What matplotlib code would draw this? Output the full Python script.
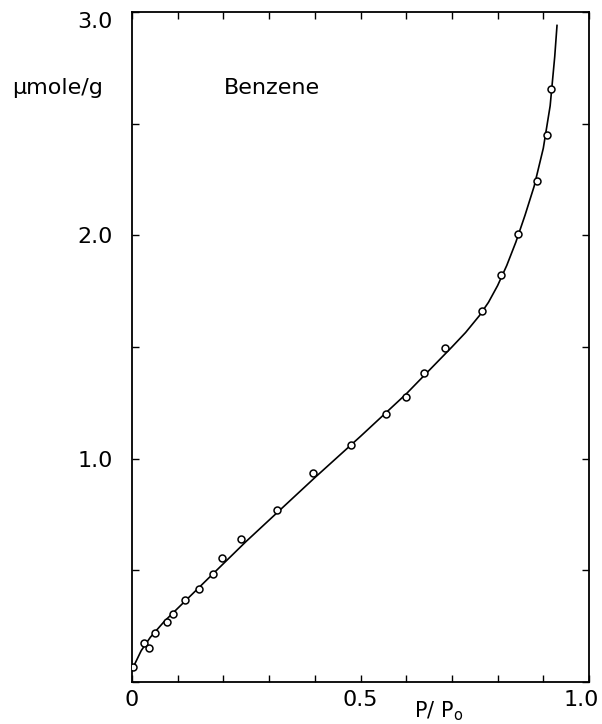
import numpy as np
import matplotlib.pyplot as plt
import matplotlib.transforms as mtransforms
from matplotlib.ticker import MultipleLocator

# measured points (P/Po, umole/g)
p_rel = [0.002, 0.026, 0.037, 0.050, 0.077, 0.090, 0.116, 0.147, 0.177, 0.197,
         0.239, 0.317, 0.396, 0.479, 0.556, 0.600, 0.639, 0.685, 0.766, 0.807,
         0.845, 0.886, 0.908, 0.917]
uptake = [0.067, 0.175, 0.152, 0.219, 0.269, 0.305, 0.367, 0.417, 0.484, 0.555,
          0.640, 0.770, 0.936, 1.061, 1.200, 1.276, 1.384, 1.496, 1.661, 1.823,
          2.006, 2.244, 2.450, 2.656]

# drawn isotherm curve
curve_x = [0.000, 0.020, 0.040, 0.070, 0.100, 0.150, 0.200, 0.250, 0.300, 0.400,
           0.500, 0.550, 0.600, 0.650, 0.700, 0.730, 0.760, 0.780, 0.800, 0.820,
           0.840, 0.860, 0.880, 0.900, 0.915, 0.925, 0.930]
curve_y = [0.055, 0.14, 0.20, 0.27, 0.33, 0.43, 0.53, 0.63, 0.725, 0.915,
           1.10, 1.195, 1.29, 1.395, 1.50, 1.565, 1.64, 1.70, 1.775, 1.865,
           1.97, 2.09, 2.22, 2.39, 2.58, 2.80, 2.94]

xticks = [0, 0.5, 1.0]
xtick_labels = ['0', '0.5', '1.0']
yticks = [1.0, 2.0, 3.0]
ytick_labels = ['1.0', '2.0', '3.0']

fig = plt.figure(figsize=(6.02, 7.24), dpi=100)
ax = fig.add_axes([0.2193, 0.058, 0.7591, 0.9254])

ax.plot(curve_x, curve_y, color='black', lw=1.2, zorder=2)
ax.plot(p_rel, uptake, 'o', ms=5, mfc='white', mec='black', mew=1.1, zorder=3)

ax.set_xlim(0, 1.0)
ax.set_ylim(0, 3.0)
ax.set_xticks(xticks)
ax.set_xticklabels(xtick_labels)
ax.set_yticks(yticks)
ax.set_yticklabels(ytick_labels)
ax.xaxis.set_minor_locator(MultipleLocator(0.1))
ax.yaxis.set_minor_locator(MultipleLocator(0.5))
ax.tick_params(which='both', direction='in', top=True, right=True,
               length=5, width=1.0, labelsize=16)
ax.tick_params(axis='x', pad=6)
ax.tick_params(axis='y', pad=14)
for s in ax.spines.values():
    s.set_linewidth(1.3)

# keep the last x label inside the figure
last = ax.get_xticklabels()[-1]
last.set_horizontalalignment('right')
last.set_transform(last.get_transform() +
                   mtransforms.ScaledTranslation(10 / 100, 0, fig.dpi_scale_trans))
# the top y label sits a little under its tick
top = ax.get_yticklabels()[-1]
top.set_transform(top.get_transform() +
                  mtransforms.ScaledTranslation(0, -8 / 100, fig.dpi_scale_trans))

fig.text(0.02, 0.878, 'μmole/g', fontsize=16, ha='left', va='center')
ax.text(0.2, 0.887, 'Benzene', transform=ax.transAxes, fontsize=16,
        ha='left', va='center')
fig.text(0.729, 0.002, 'P/ P$_\\mathrm{o}$', fontsize=15, ha='center', va='bottom')

fig.savefig('out.png', dpi=100)
